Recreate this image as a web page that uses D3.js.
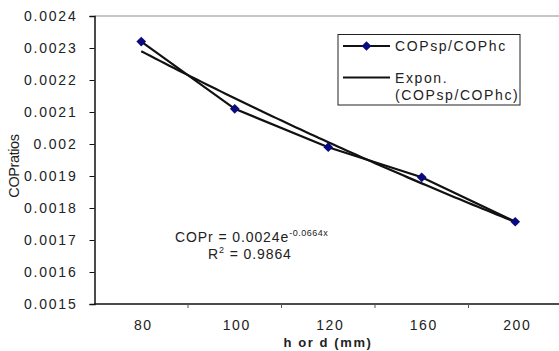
<!DOCTYPE html>
<html>
<head>
<meta charset="utf-8">
<script src="https://cdn.jsdelivr.net/npm/d3@7"></script>
<style>
  body { margin: 0; background: #fff; }
  svg { display: block; font-family: "Liberation Sans", Arial, sans-serif; }
</style>
</head>
<body>
<div id="chart"></div>
<script>
// categories along the x axis (h or d in mm)
const categories = ["80", "100", "120", "160", "200"];
// COPsp/COPhc ratio per category
const ratios = [0.00232, 0.00211, 0.00199, 0.001896, 0.001757];
const yTicks = [0.0015, 0.0016, 0.0017, 0.0018, 0.0019, 0.002, 0.0021, 0.0022, 0.0023, 0.0024];
const yTickLabels = ["0.0015", "0.0016", "0.0017", "0.0018", "0.0019", "0.002", "0.0021", "0.0022", "0.0023", "0.0024"];

const width = 559;
const height = 351;
const plot = { left: 94.5, right: 562, top: 16, bottom: 304 };

const svg = d3.select("#chart").append("svg")
  .attr("width", width)
  .attr("height", height);

const x = d3.scaleBand().domain(categories).range([plot.left, plot.right]);
const y = d3.scaleLinear().domain([0.0015, 0.0024]).range([plot.bottom, plot.top]);
const cx = (i) => x(categories[i]) + x.bandwidth() / 2;

// top border of the plot area (light grey)
svg.append("line")
  .attr("x1", plot.left).attr("x2", width)
  .attr("y1", plot.top).attr("y2", plot.top)
  .attr("stroke", "#b4b4b4").attr("stroke-width", 1.5);

// y axis
const yAxis = svg.append("g")
  .attr("transform", `translate(${plot.left},0)`)
  .call(d3.axisLeft(y).tickValues(yTicks).tickSize(5).tickPadding(12)
    .tickFormat((d, i) => yTickLabels[i]));
yAxis.select(".domain").attr("stroke", "#111").attr("stroke-width", 1.5);
yAxis.selectAll(".tick line").attr("stroke", "#111");
yAxis.selectAll("text")
  .attr("font-size", 14).attr("fill", "#222")
  .style("letter-spacing", "1.8px")
  .attr("font-family", "Liberation Sans, Arial, sans-serif");

// x axis: ticks at category boundaries
const xAxis = svg.append("g")
  .attr("transform", `translate(0,${plot.bottom})`);
xAxis.append("line")
  .attr("x1", plot.left).attr("x2", width)
  .attr("stroke", "#111").attr("stroke-width", 1.5);
xAxis.selectAll("line.tick")
  .data(categories.slice(1))
  .join("line")
  .attr("class", "tick")
  .attr("x1", (d) => x(d)).attr("x2", (d) => x(d))
  .attr("y1", 0).attr("y2", 4)
  .attr("stroke", "#555");
xAxis.selectAll("text")
  .data(categories)
  .join("text")
  .attr("x", (d) => x(d) + x.bandwidth() / 2 + 2)
  .attr("y", 26)
  .attr("text-anchor", "middle")
  .attr("font-size", 14).attr("fill", "#222")
  .style("letter-spacing", "1.5px")
  .text((d) => d);

// axis titles
svg.append("text")
  .attr("x", 328).attr("y", 347)
  .attr("text-anchor", "middle")
  .attr("font-size", 13).attr("font-weight", "bold").attr("fill", "#222")
  .style("letter-spacing", "1.6px")
  .text("h or d (mm)");

svg.append("text")
  .attr("transform", "translate(19,166) rotate(-90)")
  .attr("text-anchor", "middle")
  .attr("font-size", 14.5).attr("fill", "#222")
  .style("letter-spacing", "-0.4px")
  .text("COPratios");

// exponential trendline fitted to the data (least squares on ln y, x = 1..n)
const n = ratios.length;
const xs = d3.range(1, n + 1);
const ly = ratios.map(Math.log);
const mx = d3.mean(xs), my = d3.mean(ly);
const b = d3.sum(xs, (v, i) => (v - mx) * (ly[i] - my)) / d3.sum(xs, (v) => (v - mx) ** 2);
const a = Math.exp(my - b * mx);
const trend = d3.range(0, n - 1 + 1e-9, 0.05).map((t) => [
  plot.left + x.bandwidth() / 2 + t * x.step(),
  y(a * Math.exp(b * (t + 1))),
]);

svg.append("path")
  .datum(trend)
  .attr("fill", "none")
  .attr("stroke", "#111")
  .attr("stroke-width", 2.2)
  .attr("d", d3.line());

// data series
svg.append("path")
  .datum(ratios)
  .attr("fill", "none")
  .attr("stroke", "#111")
  .attr("stroke-width", 2.2)
  .attr("d", d3.line().x((d, i) => cx(i)).y((d) => y(d)));

const diamond = d3.symbol().type(d3.symbolDiamond2).size(60);
svg.selectAll("path.pt")
  .data(ratios)
  .join("path")
  .attr("class", "pt")
  .attr("transform", (d, i) => `translate(${cx(i)},${y(d)})`)
  .attr("d", diamond)
  .attr("fill", "#0a0a80");

// equation text
const eq = svg.append("text")
  .attr("x", 175).attr("y", 242)
  .attr("font-size", 14).attr("fill", "#222")
  .style("letter-spacing", "0.9px");
eq.append("tspan").text("COPr = 0.0024e");
eq.append("tspan").attr("dy", -6).attr("font-size", 9).style("letter-spacing", "0.5px").text("-0.0664x");

const r2 = svg.append("text")
  .attr("x", 208).attr("y", 259)
  .attr("font-size", 14).attr("fill", "#222")
  .style("letter-spacing", "0.9px");
r2.append("tspan").text("R");
r2.append("tspan").attr("dy", -6).attr("font-size", 9).text("2");
r2.append("tspan").attr("dy", 6).text(" = 0.9864");

// legend
const lg = svg.append("g");
lg.append("rect")
  .attr("x", 338).attr("y", 34.5)
  .attr("width", 182).attr("height", 70.5)
  .attr("fill", "#fff").attr("stroke", "#222").attr("stroke-width", 1);
lg.append("line")
  .attr("x1", 343).attr("x2", 390).attr("y1", 46).attr("y2", 46)
  .attr("stroke", "#111").attr("stroke-width", 2);
lg.append("path")
  .attr("transform", "translate(366.5,46)")
  .attr("d", diamond)
  .attr("fill", "#0a0a80");
lg.append("line")
  .attr("x1", 343).attr("x2", 390).attr("y1", 77.5).attr("y2", 77.5)
  .attr("stroke", "#111").attr("stroke-width", 2);
const legendText = [
  { y: 51, t: "COPsp/COPhc" },
  { y: 83, t: "Expon." },
  { y: 100, t: "(COPsp/COPhc)" },
];
lg.selectAll("text")
  .data(legendText)
  .join("text")
  .attr("x", 395).attr("y", (d) => d.y)
  .attr("font-size", 14).attr("fill", "#222")
  .style("letter-spacing", "1.6px")
  .text((d) => d.t);
</script>
</body>
</html>
